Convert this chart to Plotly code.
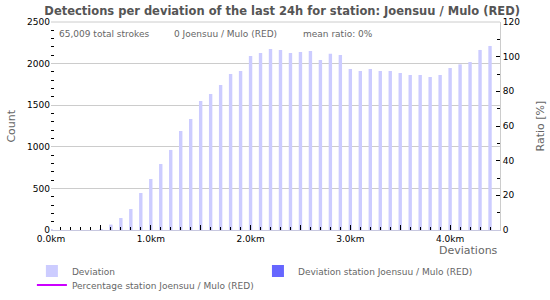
import plotly.graph_objects as go

deviation_km = [0.0, 0.1, 0.2, 0.3, 0.4, 0.5, 0.6, 0.7, 0.8, 0.9,
                1.0, 1.1, 1.2, 1.3, 1.4, 1.5, 1.6, 1.7, 1.8, 1.9,
                2.0, 2.1, 2.2, 2.3, 2.4, 2.5, 2.6, 2.7, 2.8, 2.9,
                3.0, 3.1, 3.2, 3.3, 3.4, 3.5, 3.6, 3.7, 3.8, 3.9,
                4.0, 4.1, 4.2, 4.3, 4.4]
deviation_counts = [10, 0, 0, 0, 0, 12, 65, 144, 252, 445,
                    613, 793, 962, 1190, 1334, 1551, 1635, 1743, 1875, 1911,
                    2091, 2127, 2175, 2164, 2127, 2139, 2151, 2043, 2119, 2103,
                    1935, 1911, 1935, 1911, 1911, 1887, 1863, 1863, 1839, 1863,
                    1947, 1991, 2019, 2164, 2212]
station_counts = [0] * len(deviation_km)
station_percentage = [None] * len(deviation_km)

x_tickvals = [0.0, 0.5, 1.0, 1.5, 2.0, 2.5, 3.0, 3.5, 4.0]
x_ticktext = ["0.0km", "", "1.0km", "", "2.0km", "", "3.0km", "", "4.0km"]

title_text = "Detections per deviation of the last 24h for station: Joensuu / Mulo (RED)"
info_texts = ["65,009 total strokes", "0 Joensuu / Mulo (RED)", "mean ratio: 0%"]

FONT = "DejaVu Sans"
GRAY = "#666666"

fig = go.Figure()
fig.add_trace(go.Bar(x=deviation_km, y=deviation_counts, name="Deviation",
                     marker=dict(color="#ccccff", line=dict(width=0)), width=0.034,
                     legend="legend"))
fig.add_trace(go.Bar(x=deviation_km, y=station_counts,
                     name="Deviation station Joensuu / Mulo (RED)",
                     marker=dict(color="#6666ff", line=dict(width=0)), width=0.034,
                     legend="legend2"))
fig.add_trace(go.Scatter(x=deviation_km, y=station_percentage, yaxis="y2",
                         name="Percentage station Joensuu / Mulo (RED)",
                         mode="lines", line=dict(color="#cc00ff", width=2),
                         legend="legend3"))

legend_common = dict(orientation="v", xanchor="left", yanchor="top",
                     xref="container", yref="container",
                     font=dict(family=FONT, size=9, color=GRAY),
                     tracegroupgap=0, itemwidth=30, bgcolor="rgba(0,0,0,0)")

fig.update_layout(
    width=550, height=300,
    margin=dict(l=51, r=50, t=22, b=70, autoexpand=False),
    paper_bgcolor="white", plot_bgcolor="white",
    barmode="overlay",
    font=dict(family=FONT, size=9, color="#000000"),
    title=dict(text="<b>" + title_text + "</b>", x=0.513, xanchor="center",
               xref="container", y=0.978, yanchor="top", yref="container",
               font=dict(family=FONT, size=11.5, color="#555555")),
    showlegend=True,
    legend=dict(x=0.058, y=0.145, **legend_common),
    legend2=dict(x=0.469, y=0.145, **legend_common),
    legend3=dict(x=0.058, y=0.098, **legend_common),
    xaxis=dict(range=[0, 4.5], tickvals=x_tickvals, ticktext=x_ticktext,
               ticks="inside", ticklen=5, tickcolor="#000000", tickwidth=1,
               minor=dict(dtick=0.1, ticks="inside", ticklen=3, tickcolor="#000000"),
               showgrid=False, showline=True, linecolor="#c8c8e0", linewidth=1,
               zeroline=False, tickfont=dict(size=9, color="#000000")),
    yaxis=dict(range=[0, 2500], dtick=500, ticks="", showgrid=True,
               gridcolor="#cccccc", gridwidth=1, zeroline=False, showline=False,
               minor=dict(dtick=100, ticks="inside", ticklen=3, tickcolor="#000000",
                          showgrid=False),
               tickfont=dict(size=9, color="#000000")),
    yaxis2=dict(range=[0, 120], dtick=20, overlaying="y", side="right",
                ticks="inside", ticklen=4, tickcolor="#000000", showgrid=False,
                zeroline=False, showline=True, linecolor="#cccccc",
                minor=dict(dtick=10, ticks="inside", ticklen=3, tickcolor="#000000"),
                tickfont=dict(size=9, color="#000000")),
)

# top border line
fig.add_shape(type="line", xref="paper", yref="paper", x0=0, x1=1, y0=1, y1=1,
              line=dict(color="#cccccc", width=1))

info_x = [0.014, 0.27, 0.556]
for t, xp in zip(info_texts, info_x):
    fig.add_annotation(text=t, xref="paper", yref="paper", x=xp, y=0.94,
                       xanchor="left", yanchor="middle", showarrow=False,
                       font=dict(family=FONT, size=9, color=GRAY))

fig.add_annotation(text="Deviations", xref="paper", yref="paper", x=1.0, y=-0.06,
                   xanchor="right", yanchor="top", showarrow=False,
                   font=dict(family=FONT, size=11, color=GRAY))

# axis titles
fig.add_annotation(text="Count", xref="paper", yref="paper", x=-0.09, y=0.5,
                   xanchor="center", yanchor="middle", textangle=-90, showarrow=False,
                   font=dict(family=FONT, size=11, color=GRAY))
fig.add_annotation(text="Ratio [%]", xref="paper", yref="paper", x=1.088, y=0.5,
                   xanchor="center", yanchor="middle", textangle=-90, showarrow=False,
                   font=dict(family=FONT, size=11, color=GRAY))

fig.write_html("out.html")
